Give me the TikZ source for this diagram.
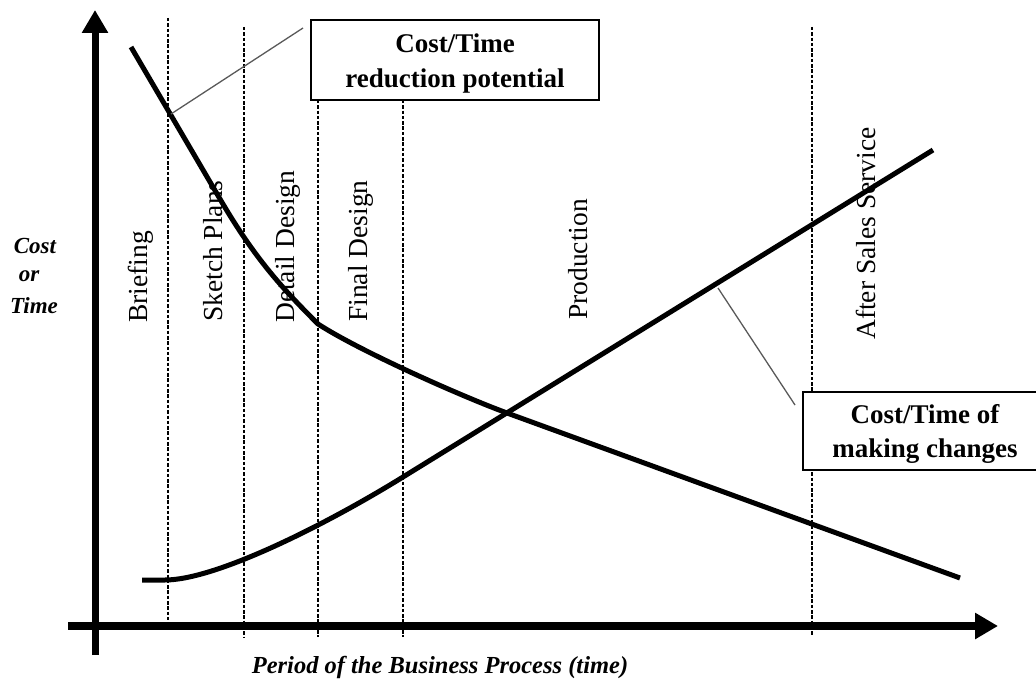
\documentclass[tikz,border=0pt]{standalone}
\usepackage{fontspec}
\setmainfont{Liberation Serif}
\usetikzlibrary{arrows.meta}
\tikzset{
  axis/.style={line width=#1, -{Triangle[length=23pt,width=25pt]}},
  phase/.style={line width=2.3pt, dash pattern=on 3.5pt off 1.8pt},
  curve/.style={line width=5pt, line join=round},
  leader/.style={line width=1.3pt, black!65},
  infobox/.style={draw, fill=white, line width=1.5pt, inner sep=0pt},
  boxtext/.style={font=\fontsize{27}{33}\selectfont\bfseries, anchor=base, inner sep=0pt},
  phasetext/.style={font=\fontsize{27.5}{33}\selectfont, rotate=90, anchor=base west, inner sep=0pt},
  axtext/.style={font=\fontsize{23}{28}\selectfont\bfseries\itshape, anchor=base, inner sep=0pt}
}
\begin{document}
\begin{tikzpicture}[x=1pt,y=-1pt]
\useasboundingbox (0,0) rectangle (1036,682);
\clip (0,0) rectangle (1036,682);
% phase boundaries
\coordinate (p1t) at (168,18);  \coordinate (p1b) at (168,620);
\coordinate (p2t) at (244,27);  \coordinate (p2b) at (244,637);
\coordinate (p3t) at (318,100); \coordinate (p3b) at (318,637);
\coordinate (p4t) at (403,100); \coordinate (p4b) at (403,637);
\coordinate (p5t) at (812,27);  \coordinate (p5b) at (812,635);
\draw[phase] (p1t) -- (p1b);
\draw[phase] (p2t) -- (p2b);
\draw[phase] (p3t) -- (p3b);
\draw[phase] (p4t) -- (p4b);
\draw[phase] (p5t) -- (p5b);
% boxes
\node[infobox, minimum width=288pt, minimum height=80pt] (redbox) at (455,60) {};
\node[infobox, minimum width=244pt, minimum height=78pt] (chgbox) at (925,431) {};
\node[boxtext] (red1) at (455,53) {Cost/Time};
\node[boxtext] (red2) at (455,88) {reduction potential};
\node[boxtext] (chg1) at (925,423) {Cost/Time of};
\node[boxtext] (chg2) at (925,457) {making changes};
% axes
\coordinate (yb) at (95,655); \coordinate (yt) at (95,10);
\coordinate (xl) at (68,626); \coordinate (xr) at (998,626);
\draw[axis=7pt] (yb) -- (yt);
\draw[axis=8pt] (xl) -- (xr);
% curves
\coordinate (d0) at (131,47);
\coordinate (dk) at (318,324);
\coordinate (dx) at (507,413);
\coordinate (d9) at (960,578);
\draw[curve] (d0) -- (220,199) .. controls (255,259) and (283,289) .. (dk)
  .. controls (358,350) and (457,394.5) .. (dx) -- (d9);
\coordinate (r0) at (142,580);
\coordinate (r4) at (403,477);
\coordinate (r9) at (933,150);
\draw[curve] (r0) -- (165,580) .. controls (215,580) and (323,526.4) .. (r4) -- (r9);
% leaders
\coordinate (la) at (171,114); \coordinate (lae) at (303,28);
\coordinate (lb) at (718,288); \coordinate (lbe) at (795,405);
\draw[leader] (la) -- (lae);
\draw[leader] (lb) -- (lbe);
% phase labels
\node[phasetext] (tBrief) at (147,323) {Briefing};
\node[phasetext] (tSketch) at (222,322) {Sketch Plans};
\node[phasetext] (tDetail) at (294,323) {Detail Design};
\node[phasetext] (tFinal) at (367,322) {Final Design};
\node[phasetext] (tProd) at (587,320) {Production};
\node[phasetext] (tAfter) at (875,340) {After Sales Service};
% axis labels
\node[axtext] (ycost) at (35,253) {Cost};
\node[axtext] (yor) at (29,281) {or};
\node[axtext] (ytime) at (34,313) {Time};
\node[axtext, font=\fontsize{24.5}{28}\selectfont\bfseries\itshape] (xlab) at (440,673) {Period of the Business Process (time)};
\end{tikzpicture}
\end{document}
